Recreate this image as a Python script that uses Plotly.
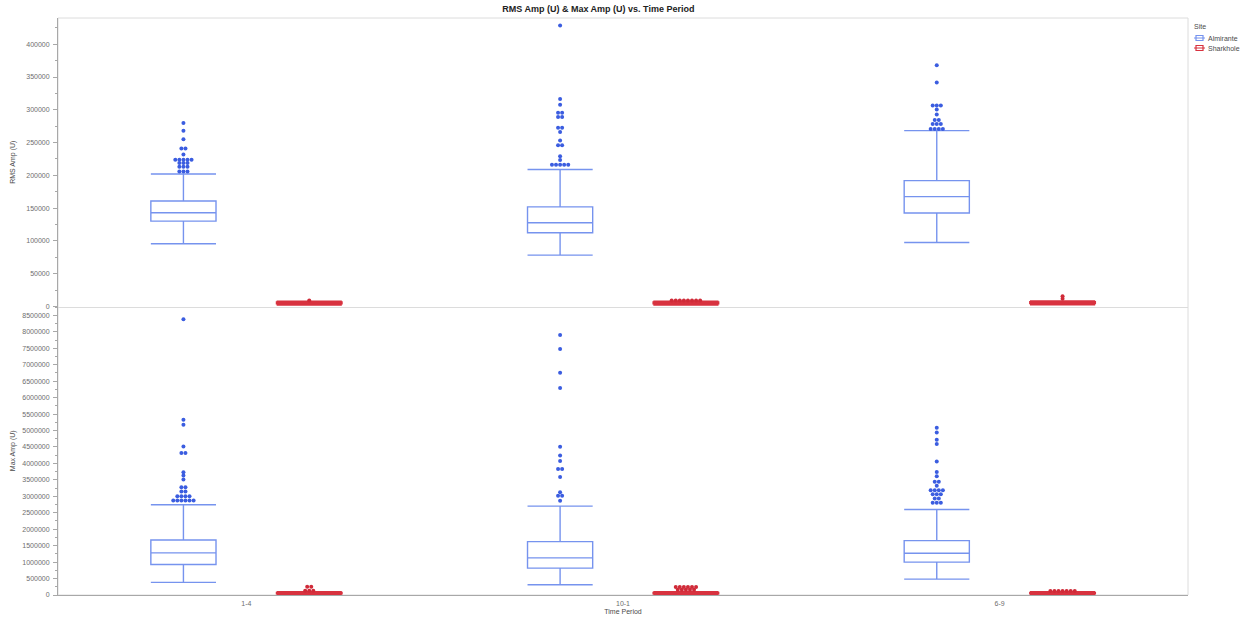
import plotly.graph_objects as go
from plotly.subplots import make_subplots

# ---- data -----------------------------------------------------------------
periods = ["1-4", "10-1", "6-9"]
sites = ["Almirante", "Sharkhole"]

# RMS Amp (U) box statistics per time period
rms_alm_low = [95700, 78300, 97700]
rms_alm_q1 = [130200, 112500, 142500]
rms_alm_med = [143000, 127700, 167500]
rms_alm_q3 = [160800, 152000, 191900]
rms_alm_high = [202000, 209000, 268200]

rms_shk_low = [2500, 2500, 3000]
rms_shk_q1 = [4500, 4500, 4800]
rms_shk_med = [5500, 5500, 6000]
rms_shk_q3 = [6800, 6800, 7200]
rms_shk_high = [7800, 7800, 8200]

# RMS Amp (U) outliers
rms_alm_out_14 = [280000, 268000, 255000, 241000, 241000, 232000,
                  224000, 224000, 224000, 224000, 224000,
                  219000, 219000, 219000, 213000, 213000, 213000,
                  206000, 206000, 206000]
rms_alm_out_101 = [428500, 316500, 307800, 295500, 295500, 289000, 289000,
                   272800, 272800, 266100, 253000, 245800, 245800, 229000,
                   223400, 216300, 216300, 216300, 216300, 216300]
rms_alm_out_69 = [368000, 341500, 306400, 306400, 306400, 300300, 292700,
                  284500, 284500, 278300, 278300, 278300,
                  270700, 270700, 270700, 270700]
rms_shk_out_14 = [9300]
rms_shk_out_101 = [9000, 9000, 9000, 9000, 9000, 9000, 9000, 9000]
rms_shk_out_69 = [15700, 11700]

# Max Amp (U) box statistics per time period
max_alm_low = [383000, 313000, 484000]
max_alm_q1 = [928000, 817000, 998000]
max_alm_med = [1280000, 1129000, 1270000]
max_alm_q3 = [1673000, 1623000, 1654000]
max_alm_high = [2743000, 2702000, 2601000]

max_shk_low = [15000, 15000, 15000]
max_shk_q1 = [40000, 40000, 40000]
max_shk_med = [55000, 55000, 55000]
max_shk_q3 = [75000, 75000, 75000]
max_shk_high = [95000, 95000, 95000]

# Max Amp (U) outliers
max_alm_out_14 = [8379000, 5324000, 5172000, 4517000, 4316000, 4316000,
                  3730000, 3630000, 3509000, 3276000, 3276000,
                  3146000, 3146000, 3004000, 3004000, 3004000, 3004000,
                  2874000, 2874000, 2874000, 2874000, 2874000, 2874000]
max_alm_out_101 = [7905000, 7481000, 6755000, 6292000, 4507000, 4244000,
                   4073000, 3831000, 3831000, 3590000, 3126000,
                   3015000, 3015000, 2864000]
max_alm_out_69 = [5082000, 4940000, 4719000, 4587000, 4062000, 3741000,
                  3609000, 3439000, 3439000, 3318000,
                  3185000, 3185000, 3185000, 3185000,
                  3064000, 3064000, 3064000, 2934000, 2934000,
                  2804000, 2804000, 2804000]
max_shk_out_14 = [251000, 251000, 131000, 131000, 131000]
max_shk_out_101 = [242000, 242000, 242000, 242000, 242000, 242000,
                   160000, 160000, 160000, 160000, 160000]
max_shk_out_69 = [121000, 121000, 121000, 121000, 121000, 121000, 121000]

# ---- styling ----------------------------------------------------------------
ALM_LINE = "#7693ee"
ALM_DOT = "#3b5de0"
SHK_LINE = "#d8323f"
SHK_DOT = "#d02a38"
SITE_COLORS = {"Almirante": (ALM_LINE, ALM_DOT), "Sharkhole": (SHK_LINE, SHK_DOT)}
AXIS_GRAY = "#a8a8a8"
FRAME_GRAY = "#dcdcdc"
TEXT_GRAY = "#6e6e6e"
FONT = "Liberation Sans"

SITE_OFFSET = {"Almirante": -0.167, "Sharkhole": 0.167}
BOX_WIDTH = 0.173
DOT_STEP = 0.0108

W, H = 1244, 619
M_L, M_R, M_T, M_B = 58, 56, 18, 24


def spread(values, center):
    """Stack equal outlier values side by side around the box centre."""
    counts = {}
    for v in values:
        counts[v] = counts.get(v, 0) + 1
    seen, xs = {}, []
    for v in values:
        n = counts[v]
        k = seen.get(v, 0)
        seen[v] = k + 1
        xs.append(center + (k - (n - 1) / 2) * DOT_STEP)
    return xs


fig = make_subplots(rows=2, cols=1, shared_xaxes=True, vertical_spacing=0)

panels = [
    (1, {
        "Almirante": (rms_alm_low, rms_alm_q1, rms_alm_med, rms_alm_q3, rms_alm_high,
                      [rms_alm_out_14, rms_alm_out_101, rms_alm_out_69]),
        "Sharkhole": (rms_shk_low, rms_shk_q1, rms_shk_med, rms_shk_q3, rms_shk_high,
                      [rms_shk_out_14, rms_shk_out_101, rms_shk_out_69]),
    }),
    (2, {
        "Almirante": (max_alm_low, max_alm_q1, max_alm_med, max_alm_q3, max_alm_high,
                      [max_alm_out_14, max_alm_out_101, max_alm_out_69]),
        "Sharkhole": (max_shk_low, max_shk_q1, max_shk_med, max_shk_q3, max_shk_high,
                      [max_shk_out_14, max_shk_out_101, max_shk_out_69]),
    }),
]

for row, data in panels:
    for site in sites:
        low, q1, med, q3, high, outs = data[site]
        line_c, dot_c = SITE_COLORS[site]
        lw = 1.4 if site == "Almirante" else 1.8
        xpos = [i + SITE_OFFSET[site] for i in range(len(periods))]
        fig.add_trace(go.Box(
            x=xpos, q1=q1, median=med, q3=q3, lowerfence=low, upperfence=high,
            width=BOX_WIDTH, whiskerwidth=1, boxpoints=False,
            fillcolor="rgba(255,255,255,0)",
            line=dict(color=line_c, width=lw),
            name=site, legendgroup=site, showlegend=False,
            hoverinfo="skip",
        ), row=row, col=1)
        ox, oy = [], []
        for i, vals in enumerate(outs):
            ox += spread(vals, xpos[i])
            oy += vals
        fig.add_trace(go.Scatter(
            x=ox, y=oy, mode="markers",
            marker=dict(color=dot_c, size=4, line=dict(width=0)),
            name=site, legendgroup=site, showlegend=False,
        ), row=row, col=1)

tick_font = dict(family=FONT, size=7, color=TEXT_GRAY)
title_font = dict(family=FONT, size=7, color="#4a4a4a")

fig.update_xaxes(
    range=[-0.5, 2.5], tickvals=[0, 1, 2], ticktext=periods,
    showgrid=False, zeroline=False, ticks="",
)
fig.update_xaxes(showline=True, linecolor=FRAME_GRAY, linewidth=1,
                 showticklabels=False, row=1, col=1)
fig.update_xaxes(showline=True, linecolor=AXIS_GRAY, linewidth=1,
                 tickfont=tick_font, ticklabelstandoff=2,
                 title=dict(text="Time Period", font=title_font, standoff=2),
                 row=2, col=1)

yaxis_common = dict(
    showgrid=False, zeroline=False, showline=True, linecolor=AXIS_GRAY,
    linewidth=1, ticks="outside", ticklen=4, tickcolor=AXIS_GRAY,
    tickfont=tick_font, ticklabelstandoff=2, tickformat="d",
)
fig.update_yaxes(
    range=[0, 440000], dtick=50000, tick0=0,
    minor=dict(dtick=25000, ticks="outside", ticklen=2, tickcolor=AXIS_GRAY),
    title=dict(text="RMS Amp (U)", font=title_font, standoff=9),
    row=1, col=1, **yaxis_common,
)
fig.update_yaxes(
    range=[0, 8770000], dtick=500000, tick0=0,
    minor=dict(dtick=250000, ticks="outside", ticklen=2, tickcolor=AXIS_GRAY),
    title=dict(text="Max Amp (U)", font=title_font, standoff=5),
    row=2, col=1, **yaxis_common,
)

# Site key drawn at the upper right, outside the frame
legend_font = dict(family=FONT, size=7, color="#4a4a4a")
annotations = [dict(text="Site", xref="paper", yref="paper",
                    x=(1192 - M_L) / (W - M_L - M_R), y=1 - (27 - M_T) / (H - M_T - M_B),
                    xanchor="left", yanchor="middle", showarrow=False, font=legend_font)]
shapes = [dict(type="rect", xref="paper", yref="paper", x0=0, x1=1, y0=0, y1=1,
               line=dict(color=FRAME_GRAY, width=1), layer="below")]
for j, site in enumerate(sites):
    yc = 38 + j * 10
    line_c, _ = SITE_COLORS[site]
    annotations.append(dict(
        text=site, xref="paper", yref="paper",
        x=(1206 - M_L) / (W - M_L - M_R), y=1 - (yc - M_T) / (H - M_T - M_B),
        xanchor="left", yanchor="middle", showarrow=False, font=legend_font))
    # small box-plot glyph
    shapes.append(dict(type="rect", xref="x domain", yref="y domain",
                       x0=(1196 - M_L) / (W - M_L - M_R), x1=(1203 - M_L) / (W - M_L - M_R),
                       y0=1 - (yc + 2.5 - M_T) / ((H - M_T - M_B) / 2),
                       y1=1 - (yc - 2.5 - M_T) / ((H - M_T - M_B) / 2),
                       line=dict(color=line_c, width=1.2)))
    shapes.append(dict(type="line", xref="x domain", yref="y domain",
                       x0=(1194 - M_L) / (W - M_L - M_R), x1=(1205 - M_L) / (W - M_L - M_R),
                       y0=1 - (yc - M_T) / ((H - M_T - M_B) / 2),
                       y1=1 - (yc - M_T) / ((H - M_T - M_B) / 2),
                       line=dict(color=line_c, width=1)))

fig.update_layout(
    width=W, height=H, autosize=False,
    margin=dict(l=M_L, r=M_R, t=M_T, b=M_B, autoexpand=False),
    paper_bgcolor="white", plot_bgcolor="white",
    boxmode="overlay", showlegend=False,
    title=dict(text="<b>RMS Amp (U) & Max Amp (U) vs. Time Period</b>",
               x=0.481, xanchor="center", y=0.986, yanchor="middle",
               font=dict(family=FONT, size=9, color="#222222")),
    annotations=annotations, shapes=shapes,
)

fig.write_html("out.html")
